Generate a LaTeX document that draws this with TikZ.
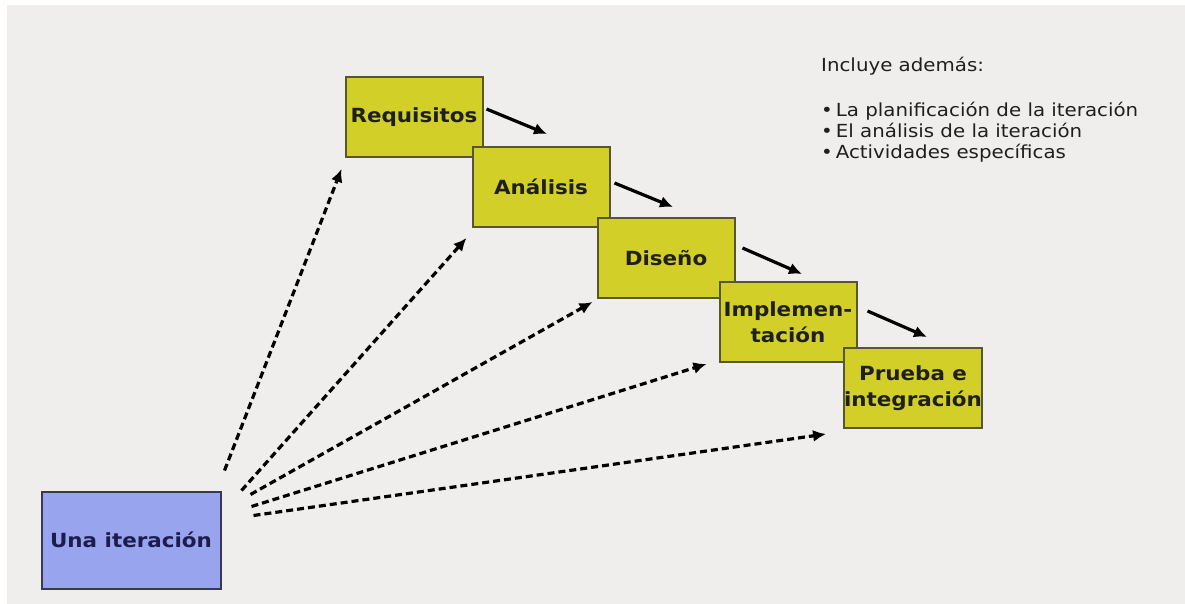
\documentclass[tikz,border=0pt]{standalone}
\usepackage{fontspec}
\setmainfont{DejaVu Sans}[FakeStretch=1.1]
\usetikzlibrary{arrows.meta}
\definecolor{fondo}{RGB}{239,238,236}
\definecolor{amarillo}{RGB}{210,208,40}
\definecolor{bordeama}{RGB}{88,86,46}
\definecolor{azul}{RGB}{152,164,238}
\definecolor{bordeazul}{RGB}{58,58,78}
\definecolor{textoazul}{RGB}{28,28,78}
\tikzset{
  fase/.style={draw=bordeama, line width=2pt, fill=amarillo, inner sep=0pt,
    minimum width=137pt, minimum height=80pt, align=center, text=black!88,
    font=\fontsize{19.5}{26}\selectfont\bfseries},
  iter/.style={draw=bordeazul, line width=2pt, fill=azul, inner sep=0pt,
    minimum width=179pt, minimum height=97pt, text=textoazul,
    font=\fontsize{19.5}{24}\selectfont\bfseries},
  flecha/.style={line width=3.2pt, -{Latex[length=13pt,width=12pt]}},
  traza/.style={line width=3.2pt, dash pattern=on 7pt off 4pt, -{Latex[length=13pt,width=12pt]}},
}
\begin{document}
\begin{tikzpicture}[x=1pt, y=-1pt]
	\useasboundingbox (0,0) rectangle (1185,604);
	\fill [white] (0,0) rectangle (1185,604);
	\fill [fondo] (7,5) rectangle (1185,604);
	% cascada de fases
	\node [fase] (req) at (414,117) {Requisitos};
	\node [fase] (ana) at (541,187) {Análisis};
	\node [fase] (dis) at (666,258) {Diseño};
	\node [fase] (imp) at (788,322) {Implemen-\\tación};
	\node [fase] (pru) at (913,388) {Prueba e\\integración};
	\node [iter] (una) at (131,540) {Una iteración};
	% nota
	\node [anchor=north west, inner sep=0pt, align=left, text=black!88,
		font=\fontsize{18}{21}\selectfont] (nota) at (821,57)
		{Incluye además:\\[24pt]
		 •\,La planificación de la iteración\\
		 •\,El análisis de la iteración\\
		 •\,Actividades específicas};
	% flechas entre fases
	\draw [flecha] ([shift={(3,-8)}]req.east) -- ([shift={(6,-12)}]ana.north);
	\draw [flecha] ([shift={(4,-4)}]ana.east) -- ([shift={(7,-10)}]dis.north);
	\draw [flecha] ([shift={(7,-10)}]dis.east) -- ([shift={(14,-7)}]imp.north);
	\draw [flecha] ([shift={(10,-11)}]imp.east) -- ([shift={(14,-10)}]pru.north);
	% trazas desde la iteracion
	\draw [traza] ([shift={(3,-20)}]una.north east) -- ([shift={(-3,11)}]req.south west);
	\draw [traza] ([shift={(20,0)}]una.north east) -- ([shift={(-5,10)}]ana.south west);
	\draw [traza] ([shift={(29,4)}]una.north east) -- ([shift={(-4,3)}]dis.south west);
	\draw [traza] ([shift={(30,16)}]una.north east) -- ([shift={(-12,1)}]imp.south west);
	\draw [traza] ([shift={(32,25)}]una.north east) -- ([shift={(-17,5)}]pru.south west);
\end{tikzpicture}
\end{document}
